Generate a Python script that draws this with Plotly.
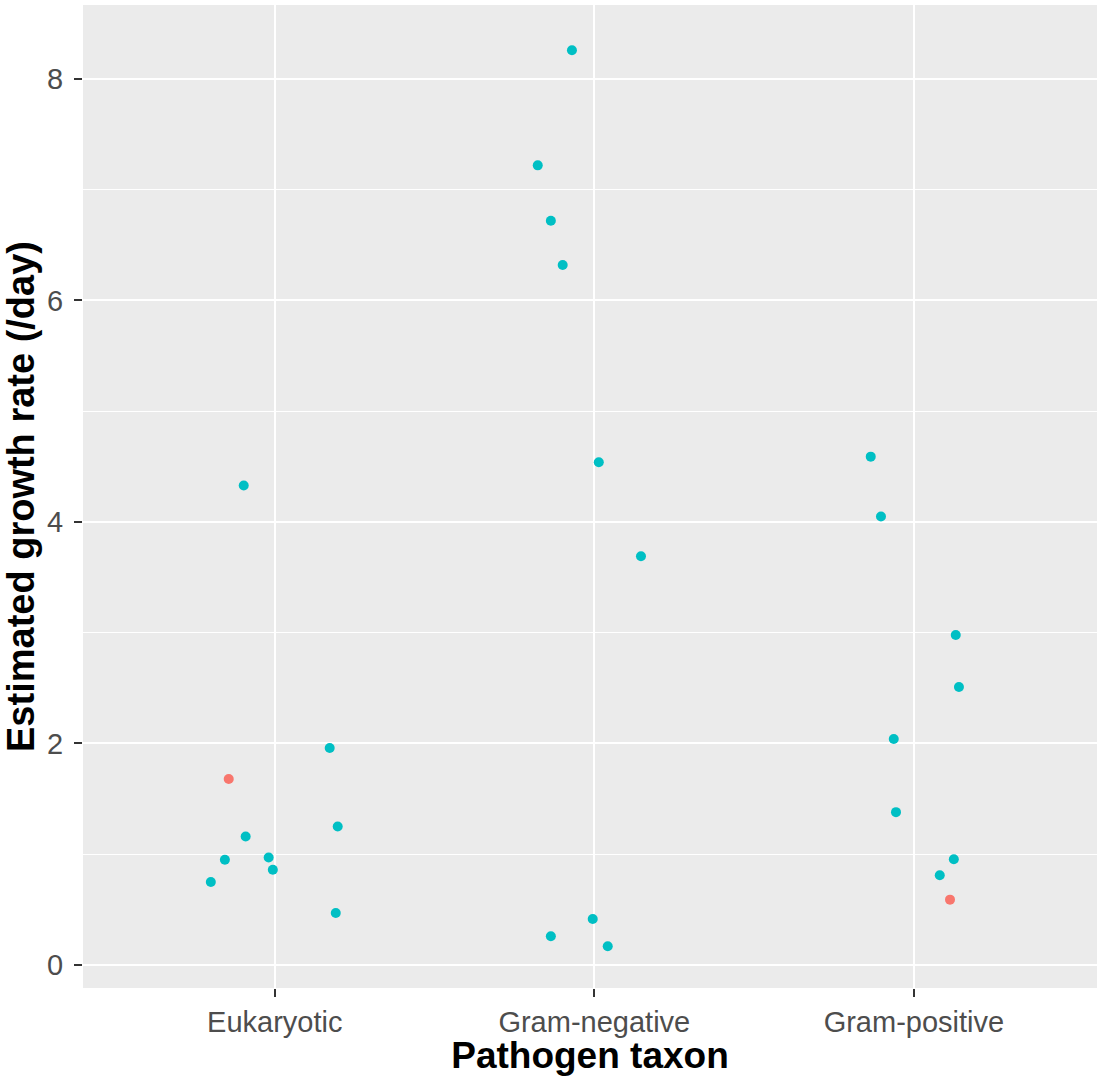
import plotly.graph_objects as go

# Pathogen taxa on the x axis (plotted at positions 1, 2, 3)
categories = ["Eukaryotic", "Gram-negative", "Gram-positive"]

# Estimated growth rates (/day) per taxon, with horizontal jitter offsets
euk_growth = [4.33, 1.68, 1.16, 0.95, 0.75, 0.97, 0.86, 1.96, 1.25, 0.47]
euk_jitter = [-0.097, -0.144, -0.091, -0.156, -0.200, -0.019, -0.006, 0.172, 0.197, 0.191]
euk_group = ["b", "a", "b", "b", "b", "b", "b", "b", "b", "b"]

gneg_growth = [8.26, 7.22, 6.72, 6.32, 4.54, 3.69, 0.26, 0.415, 0.17]
gneg_jitter = [-0.070, -0.177, -0.136, -0.099, 0.014, 0.146, -0.136, -0.005, 0.042]
gneg_group = ["b"] * 9

gpos_growth = [4.59, 4.05, 2.98, 2.51, 2.04, 1.38, 0.955, 0.81, 0.59]
gpos_jitter = [-0.135, -0.103, 0.131, 0.141, -0.063, -0.056, 0.125, 0.081, 0.113]
gpos_group = ["b", "b", "b", "b", "b", "b", "b", "b", "a"]

group_colors = {"a": "#F8766D", "b": "#00BFC4"}

xs, ys, cs = [], [], []
for i, (g, j, grp) in enumerate([(euk_growth, euk_jitter, euk_group),
                                   (gneg_growth, gneg_jitter, gneg_group),
                                   (gpos_growth, gpos_jitter, gpos_group)]):
    for v, off, k in zip(g, j, grp):
        xs.append(i + 1 + off)
        ys.append(v)
        cs.append(group_colors[k])

fig = go.Figure(go.Scatter(
    x=xs, y=ys, mode="markers",
    marker=dict(size=10, color=cs, line=dict(width=0)),
    showlegend=False, hoverinfo="skip",
))

grey = "#4D4D4D"
fig.update_layout(
    width=1097, height=1076,
    margin=dict(l=83, r=0, t=5, b=88),
    paper_bgcolor="white",
    plot_bgcolor="#EBEBEB",
    font=dict(family="Liberation Sans, Arial, sans-serif"),
    showlegend=False,
)
fig.update_xaxes(
    range=[0.4, 3.573],
    tickvals=[1, 2, 3], ticktext=categories,
    showgrid=True, gridcolor="white", gridwidth=2,
    zeroline=False, showline=False,
    ticks="outside", ticklen=8, tickwidth=2, tickcolor="#333333",
    tickfont=dict(size=29, color=grey),
    ticklabelstandoff=0,
    title=dict(text="<b>Pathogen taxon</b>", font=dict(size=37, color="black"), standoff=0),
)
fig.update_yaxes(
    range=[-0.2077, 8.668],
    tickvals=[0, 2, 4, 6, 8],
    showgrid=True, gridcolor="white", gridwidth=2,
    minor=dict(tickvals=[1, 3, 5, 7], showgrid=True, gridcolor="white", gridwidth=1, ticks=""),
    zeroline=False, showline=False,
    ticks="outside", ticklen=8, tickwidth=2, tickcolor="#333333",
    tickfont=dict(size=29, color=grey),
    ticklabelstandoff=5,
    title=dict(text="<b>Estimated growth rate (/day)</b>", font=dict(size=38, color="black"), standoff=6),
)

fig.write_html("out.html")
